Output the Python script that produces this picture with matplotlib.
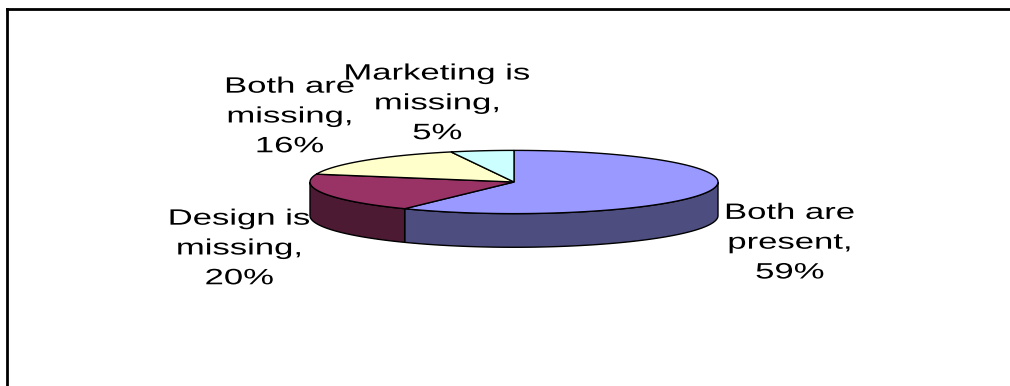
import numpy as np
import matplotlib.pyplot as plt
from matplotlib.patches import Polygon
from matplotlib.patheffects import AbstractPathEffect
from matplotlib.transforms import Affine2D

plt.rcParams['font.family'] = ['Liberation Sans', 'DejaVu Sans']

# slice data, clockwise from 12 o'clock
categories = ["Both are\npresent,", "Design is\nmissing,", "Both are\nmissing,", "Marketing is\nmissing,"]
shares = [59, 20, 16, 5]
top_colors = ["#9999FF", "#993366", "#FFFFCC", "#CCFFFF"]
side_colors = ["#4D4D80", "#4D1A33", "#80806A", "#6A8080"]

# label anchor positions (figure fraction)
label_pos = [(0.782, 0.370), (0.237, 0.355), (0.287, 0.697), (0.433, 0.731)]

TILT = 0.155   # vertical squash of the top ellipse
DEPTH = 0.165  # thickness of the disc


class Widen(AbstractPathEffect):
    """Stretch each text line horizontally about its own centre."""

    def __init__(self, sx):
        super().__init__()
        self.sx = sx

    def draw_path(self, renderer, gc, tpath, affine, rgbFace=None):
        ext = tpath.get_extents()
        mid = (ext.x0 + ext.x1) / 2
        aff = Affine2D().translate(-mid, 0).scale(self.sx, 1).translate(mid, 0) + affine
        renderer.draw_path(gc, tpath, aff, rgbFace)


W, H = 1010, 386
fig = plt.figure(figsize=(W / 100, H / 100), dpi=100)
ax = fig.add_axes([0, 0, 1, 1])
# pie radius = 204 px, centre at (514, 182) px from top-left
r_px, cx, cy = 204.0, 514.0, 182.0
ax.set_xlim(-cx / r_px, (W - cx) / r_px)
ax.set_ylim(-(H - cy) / r_px, cy / r_px)
ax.axis("off")


def rim(t):
    t = np.radians(t)
    return np.sin(t), TILT * np.cos(t)


bounds = np.concatenate([[0], np.cumsum(shares)]) / sum(shares) * 360.0

# side walls: only the front half (90..270 deg) can be seen
for i in range(len(shares)):
    a0, a1 = max(bounds[i], 90), min(bounds[i + 1], 270)
    if a1 <= a0:
        continue
    t = np.linspace(a0, a1, 120)
    x, y = rim(t)
    xs = np.concatenate([x, x[::-1]])
    ys = np.concatenate([y, y[::-1] - DEPTH])
    ax.add_patch(Polygon(np.column_stack([xs, ys]), closed=True,
                         facecolor=side_colors[i], edgecolor="black", lw=1.0))

# top faces
for i in range(len(shares)):
    t = np.linspace(bounds[i], bounds[i + 1], 200)
    x, y = rim(t)
    pts = np.column_stack([np.concatenate([[0], x]), np.concatenate([[0], y])])
    ax.add_patch(Polygon(pts, closed=True, facecolor=top_colors[i],
                         edgecolor="black", lw=1.0))

for cat, val, (lx, ly) in zip(categories, shares, label_pos):
    fig.text(lx, ly, f"{cat}\n{val}%", ha="center", va="center",
             fontsize=16, linespacing=1.55, color="black",
             path_effects=[Widen(1.56)])

# chart area border (top and left edges visible)
ax.plot([-cx / r_px + 7 / r_px] * 2, [cy / r_px - 9 / r_px, -(H - cy) / r_px],
        color="black", lw=2, solid_capstyle="projecting")
ax.plot([-cx / r_px + 7 / r_px, (W - cx) / r_px], [cy / r_px - 9 / r_px] * 2,
        color="black", lw=2, solid_capstyle="projecting")

fig.savefig("out.png", dpi=100)
